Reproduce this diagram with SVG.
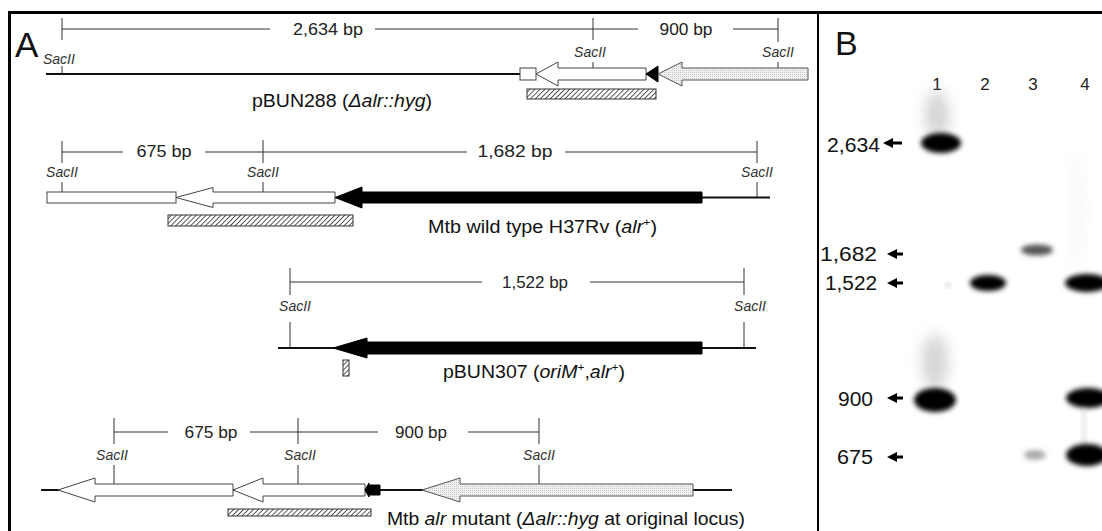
<svg xmlns="http://www.w3.org/2000/svg" width="1102" height="531" viewBox="0 0 1102 531">
<style>
.dim{stroke:#333;stroke-width:1;fill:none}
.ln{stroke:#111;stroke-width:2;fill:none}
.wa{fill:#fff;stroke:#444;stroke-width:1}
.sa{fill:url(#stip);stroke:#555;stroke-width:1}
.ba{fill:#000;stroke:#000;stroke-width:1}
.hb{fill:url(#hatch);stroke:#333;stroke-width:1}
.sac{font-family:"Liberation Sans",Arial,sans-serif;font-style:italic;font-size:14px;fill:#333;text-anchor:middle}
.bp{font-family:"Liberation Sans",Arial,sans-serif;font-size:16px;fill:#222;text-anchor:middle}
.lab{font-family:"Liberation Sans",Arial,sans-serif;font-size:18px;fill:#111}
.num{font-family:"Liberation Sans",Arial,sans-serif;font-size:20px;fill:#111}
.it{font-style:italic}
.ar{fill:#000}
</style>
<defs>
<pattern id="hatch" width="3.5" height="3.5" patternUnits="userSpaceOnUse" patternTransform="rotate(45)">
<rect width="3.5" height="3.5" fill="#fff"/>
<line x1="0" y1="0" x2="0" y2="3.5" stroke="#333" stroke-width="1.6"/>
</pattern>
<pattern id="stip" width="2" height="2" patternUnits="userSpaceOnUse">
<rect width="2" height="2" fill="#f2f2f2"/>
<rect width="1" height="1" fill="#c4c4c4"/>
</pattern>
<filter id="blur" x="-50%" y="-50%" width="200%" height="200%"><feGaussianBlur stdDeviation="2.5"/></filter>
<filter id="blur2" x="-80%" y="-80%" width="260%" height="260%"><feGaussianBlur stdDeviation="7"/></filter>
</defs>
<rect width="1102" height="531" fill="#fff"/>

<g id="frame">
<line x1="8" y1="12.5" x2="1102" y2="12.5" stroke="#000" stroke-width="3"/>
<line x1="9.5" y1="11" x2="9.5" y2="531" stroke="#000" stroke-width="3"/>
<line x1="818" y1="12" x2="818" y2="531" stroke="#000" stroke-width="2"/>
</g>

<g id="panelA">
<text x="15" y="57" font-family="Liberation Sans,Arial,sans-serif" font-size="35" fill="#111">A</text>

<g id="pBUN288">
<g class="dim">
<line x1="62" y1="29" x2="270" y2="29"/><line x1="375" y1="29" x2="593" y2="29"/>
<line x1="593" y1="29" x2="638" y2="29"/><line x1="733" y1="29" x2="778" y2="29"/>
<line x1="62" y1="18" x2="62" y2="40"/><line x1="593" y1="18" x2="593" y2="40"/><line x1="778" y1="18" x2="778" y2="42"/>
<line x1="62" y1="66" x2="62" y2="74"/><line x1="593" y1="62" x2="593" y2="68"/><line x1="778" y1="62" x2="778" y2="68"/>
</g>
<text class="bp" x="328" y="35" textLength="70" lengthAdjust="spacingAndGlyphs">2,634 bp</text>
<text class="bp" x="686" y="35" textLength="53" lengthAdjust="spacingAndGlyphs">900 bp</text>
<text class="sac" x="43" y="64" style="text-anchor:start">SacII</text>
<text class="sac" x="590" y="57">SacII</text>
<text class="sac" x="778" y="57">SacII</text>
<line class="ln" x1="46" y1="74" x2="520" y2="74"/>
<rect class="wa" x="520" y="68" width="16" height="12"/>
<polygon class="wa" points="536,74 558,62 558,68 646,68 646,80 558,80 558,86"/>
<polygon class="ba" points="646,74 658,66 658,82"/>
<polygon class="sa" points="658,74 682,62 682,68 808,68 808,80 682,80 682,86"/>
<rect class="hb" x="527" y="89" width="129" height="10"/>
<text class="lab" x="252" y="107" textLength="180" lengthAdjust="spacingAndGlyphs">pBUN288 (<tspan class="it">Δalr::hyg</tspan>)</text>
</g>

<g id="wildtype">
<g class="dim">
<line x1="62" y1="152" x2="123" y2="152"/><line x1="205" y1="152" x2="467" y2="152"/><line x1="565" y1="152" x2="757" y2="152"/>
<line x1="62" y1="141" x2="62" y2="163"/><line x1="263" y1="140" x2="263" y2="163"/><line x1="757" y1="141" x2="757" y2="163"/>
<line x1="62" y1="182" x2="62" y2="192"/><line x1="263" y1="182" x2="263" y2="192"/><line x1="757" y1="182" x2="757" y2="198"/>
</g>
<text class="bp" x="164" y="157" textLength="55" lengthAdjust="spacingAndGlyphs">675 bp</text>
<text class="bp" x="515" y="157" textLength="75" lengthAdjust="spacingAndGlyphs">1,682 bp</text>
<text class="sac" x="62" y="177">SacII</text>
<text class="sac" x="263" y="177">SacII</text>
<text class="sac" x="757" y="177">SacII</text>
<line class="ln" x1="700" y1="197.5" x2="770" y2="197.5"/>
<rect class="wa" x="47" y="192" width="129" height="11"/>
<polygon class="wa" points="176,197.5 213,187.5 213,192 335,192 335,203 213,203 213,207.5"/>
<polygon class="ba" points="335,197.5 362,187 362,192 702,192 702,203 362,203 362,208"/>
<rect class="hb" x="168" y="215" width="185" height="11"/>
<text class="lab" x="428" y="233" textLength="229" lengthAdjust="spacingAndGlyphs">Mtb wild type H37Rv (<tspan class="it">alr</tspan><tspan font-size="11" dy="-7">+</tspan><tspan dy="7">)</tspan></text>
</g>

<g id="pBUN307">
<g class="dim">
<line x1="290" y1="282" x2="482" y2="282"/><line x1="590" y1="282" x2="744" y2="282"/>
<line x1="290" y1="268" x2="290" y2="295"/><line x1="744" y1="268" x2="744" y2="295"/>
<line x1="290" y1="322" x2="290" y2="348"/><line x1="744" y1="322" x2="744" y2="348"/>
</g>
<text class="bp" x="535" y="288" textLength="66" lengthAdjust="spacingAndGlyphs">1,522 bp</text>
<text class="sac" x="295" y="311">SacII</text>
<text class="sac" x="750" y="311">SacII</text>
<line class="ln" x1="278" y1="348" x2="756" y2="348"/>
<polygon class="ba" points="333,348 367,338 367,342 702,342 702,354 367,354 367,358"/>
<rect class="hb" x="343" y="360" width="6" height="16"/>
<text class="lab" x="443" y="378" textLength="182" lengthAdjust="spacingAndGlyphs">pBUN307 (<tspan class="it">oriM</tspan><tspan font-size="11" dy="-7">+</tspan><tspan dy="7">,</tspan><tspan class="it">alr</tspan><tspan font-size="11" dy="-7">+</tspan><tspan dy="7">)</tspan></text>
</g>

<g id="mutant">
<g class="dim">
<line x1="114" y1="432" x2="168" y2="432"/><line x1="250" y1="432" x2="378" y2="432"/><line x1="468" y1="432" x2="539" y2="432"/>
<line x1="114" y1="418" x2="114" y2="444"/><line x1="298" y1="418" x2="298" y2="444"/><line x1="539" y1="418" x2="539" y2="444"/>
<line x1="114" y1="465" x2="114" y2="484"/><line x1="298" y1="465" x2="298" y2="484"/><line x1="539" y1="465" x2="539" y2="484"/>
</g>
<text class="bp" x="211" y="438" textLength="53" lengthAdjust="spacingAndGlyphs">675 bp</text>
<text class="bp" x="421" y="438" textLength="52" lengthAdjust="spacingAndGlyphs">900 bp</text>
<text class="sac" x="112" y="460">SacII</text>
<text class="sac" x="300" y="460">SacII</text>
<text class="sac" x="539" y="460">SacII</text>
<line class="ln" x1="41" y1="490" x2="732" y2="490"/>
<polygon class="wa" points="58,490 95,478 95,484 233,484 233,496 95,496 95,502"/>
<polygon class="wa" points="233,490 263,478 263,484 365,484 365,496 263,496 263,502"/>
<polygon class="ba" points="365,490 369,483 369,485 380,485 380,495 369,495 369,497"/>
<polygon class="sa" points="422,490 460,478 460,484 693,484 693,496 460,496 460,502"/>
<rect class="hb" x="228" y="509" width="143" height="7"/>
<text class="lab" x="387" y="525" textLength="358" lengthAdjust="spacingAndGlyphs">Mtb <tspan class="it">alr</tspan> mutant (<tspan class="it">Δalr::hyg</tspan> at original locus)</text>
</g>
</g>

<g id="panelB">
<text x="835" y="55" font-family="Liberation Sans,Arial,sans-serif" font-size="34" fill="#111">B</text>
<g font-family="Liberation Sans,Arial,sans-serif" font-size="17" fill="#222" text-anchor="middle">
<text x="937" y="90">1</text><text x="985" y="90">2</text><text x="1033" y="90">3</text><text x="1085" y="90">4</text>
</g>
<g id="bands">
<ellipse cx="937" cy="115" rx="12" ry="24" fill="#aaa" opacity="0.5" filter="url(#blur2)"/>
<ellipse cx="941" cy="143" rx="20" ry="10" fill="#000" filter="url(#blur)"/>
<ellipse cx="935" cy="362" rx="13" ry="28" fill="#aaa" opacity="0.5" filter="url(#blur2)"/>
<ellipse cx="935" cy="400" rx="21" ry="12" fill="#000" filter="url(#blur)"/>
<circle cx="948" cy="285" r="2" fill="#aaa" filter="url(#blur)"/>
<ellipse cx="988" cy="283" rx="18" ry="8" fill="#000" filter="url(#blur)"/>
<ellipse cx="1037" cy="250" rx="16" ry="5.5" fill="#555" filter="url(#blur)"/>
<ellipse cx="1035" cy="455" rx="11" ry="5" fill="#aaa" filter="url(#blur)"/>
<ellipse cx="1078" cy="210" rx="5" ry="60" fill="#e8e8e8" opacity="0.4" filter="url(#blur2)"/>
<ellipse cx="1087" cy="283" rx="22" ry="9" fill="#000" filter="url(#blur)"/>
<ellipse cx="1088" cy="398" rx="22" ry="10" fill="#000" filter="url(#blur)"/>
<rect x="1082" y="408" width="4" height="40" fill="#ccc" opacity="0.5" filter="url(#blur)"/>
<ellipse cx="1087" cy="455" rx="21" ry="11" fill="#000" filter="url(#blur)"/>
</g>
<g id="markers">
<text class="num" x="827" y="152" textLength="53" lengthAdjust="spacingAndGlyphs">2,634</text>
<text class="num" x="820" y="261" textLength="57" lengthAdjust="spacingAndGlyphs">1,682</text>
<text class="num" x="825" y="290" textLength="52" lengthAdjust="spacingAndGlyphs">1,522</text>
<text class="num" x="838" y="406" textLength="35" lengthAdjust="spacingAndGlyphs">900</text>
<text class="num" x="837" y="464" textLength="36" lengthAdjust="spacingAndGlyphs">675</text>
<polygon class="ar" points="883,143 893,138 893,141.5 902,141.5 902,144.5 893,144.5 893,148"/>
<polygon class="ar" points="887,254 897,249 897,252.5 903,252.5 903,255.5 897,255.5 897,259"/>
<polygon class="ar" points="887,283 897,278 897,281.5 903,281.5 903,284.5 897,284.5 897,288"/>
<polygon class="ar" points="887,398 897,393 897,396.5 903,396.5 903,399.5 897,399.5 897,403"/>
<polygon class="ar" points="887,457 897,452 897,455.5 903,455.5 903,458.5 897,458.5 897,462"/>
</g>
</g>
</svg>
